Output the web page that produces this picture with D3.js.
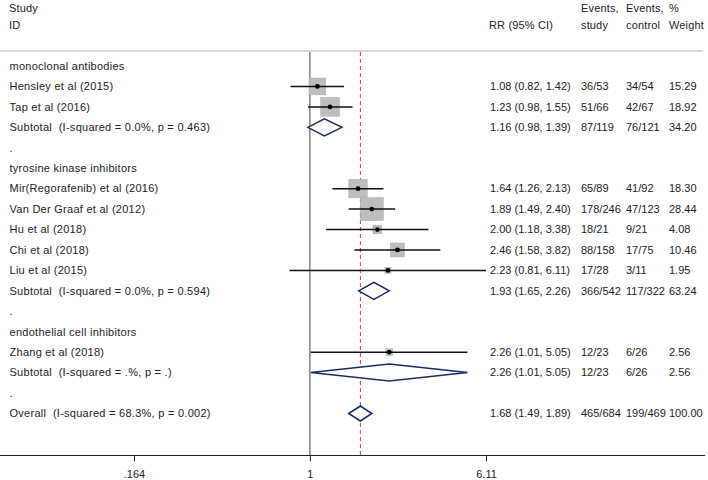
<!DOCTYPE html>
<html><head><meta charset="utf-8">
<script src="https://cdn.jsdelivr.net/npm/d3@7"></script>
<style>
html,body{margin:0;padding:0;background:#fff;}
text{font-family:Arial,"Liberation Sans",sans-serif;font-size:11px;fill:#222;white-space:pre;}
text.lab{letter-spacing:0.27px;}
</style></head><body>
<svg id="c" width="708" height="480"></svg>
<script>
const rowLabels = ["monoclonal antibodies","Hensley et al (2015)","Tap et al (2016)","Subtotal  (I-squared = 0.0%, p = 0.463)",".",
 "tyrosine kinase inhibitors","Mir(Regorafenib) et al (2016)","Van Der Graaf et al (2012)","Hu et al (2018)","Chi et al (2018)","Liu et al (2015)","Subtotal  (I-squared = 0.0%, p = 0.594)",".",
 "endothelial cell inhibitors","Zhang et al (2018)","Subtotal  (I-squared = .%, p = .)",".",
 "Overall  (I-squared = 68.3%, p = 0.002)"];
const rowTypes = ["head","study","study","sub","gap","head","study","study","study","study","study","sub","gap","head","study","sub","gap","sub"];
const rr  = [null,1.08,1.23,1.16,null,null,1.64,1.89,2.00,2.46,2.23,1.93,null,null,2.26,2.26,null,1.68];
const lo  = [null,0.82,0.98,0.98,null,null,1.26,1.49,1.18,1.58,0.81,1.65,null,null,1.01,1.01,null,1.49];
const hi  = [null,1.42,1.55,1.39,null,null,2.13,2.40,3.38,3.82,6.11,2.26,null,null,5.05,5.05,null,1.89];
const evStudy   = ["","36/53","51/66","87/119","","","65/89","178/246","18/21","88/158","17/28","366/542","","","12/23","12/23","","465/684"];
const evControl = ["","34/54","42/67","76/121","","","41/92","47/123","9/21","17/75","3/11","117/322","","","6/26","6/26","","199/469"];
const weights   = [null,15.29,18.92,34.20,null,null,18.30,28.44,4.08,10.46,1.95,63.24,null,null,2.56,2.56,null,100.00];
const tickVals = [0.164, 1, 6.11];
const tickLabels = [".164", "1", "6.11"];
const overallRR = 1.68;

const svg = d3.select("#c");
const x = d3.scaleLog().domain([0.164, 6.11]).range([134, 486]);
const y = d3.scaleLinear().domain([0, 17]).range([66, 413.5]);
const side = d3.scaleSqrt().domain([0, 100]).range([0, 43]);
const fmt = d3.format(".2f");

// header
const hdr = [["Study",9,8],["ID",9,25],["RR (95% CI)",489,25],["Events,",581,8],["study",581,25],["Events,",626,8],["control",626,25],["%",669,8],["Weight",669,25]];
svg.selectAll("text.h").data(hdr).join("text").attr("class","h")
  .attr("x",d=>d[1]).attr("y",d=>d[2]).attr("dy","0.35em").style("letter-spacing","0.15px").text(d=>d[0]);
svg.append("line").attr("x1",0).attr("x2",703).attr("y1",51).attr("y2",51).attr("stroke","#c8c8c8").attr("stroke-width",1.5);

// reference lines
svg.append("line").attr("x1",x(1)).attr("x2",x(1)).attr("y1",52).attr("y2",455).attr("stroke","#444").attr("stroke-width",1);
svg.append("line").attr("x1",x(overallRR)).attr("x2",x(overallRR)).attr("y1",52).attr("y2",455)
  .attr("stroke","#b0404a").attr("stroke-width",1).attr("stroke-dasharray","4,3");

const rows = rowLabels.map((l,i)=>({i,l,t:rowTypes[i],rr:rr[i],lo:lo[i],hi:hi[i],es:evStudy[i],ec:evControl[i],w:weights[i]}));

// labels
svg.selectAll("text.lab").data(rows).join("text").attr("class","lab")
  .attr("x",9.5).attr("y",d=>y(d.i)).attr("dy","0.35em").text(d=>d.l);

const vals = rows.filter(d=>d.rr!=null);
svg.selectAll("text.rr").data(vals).join("text").attr("class","rr")
  .attr("x",490).attr("y",d=>y(d.i)).attr("dy","0.35em")
  .text(d=>`${fmt(d.rr)} (${fmt(d.lo)}, ${fmt(d.hi)})`);
svg.selectAll("text.es").data(vals).join("text").attr("class","es")
  .attr("x",581).attr("y",d=>y(d.i)).attr("dy","0.35em").text(d=>d.es);
svg.selectAll("text.ec").data(vals).join("text").attr("class","ec")
  .attr("x",626).attr("y",d=>y(d.i)).attr("dy","0.35em").text(d=>d.ec);
svg.selectAll("text.w").data(vals).join("text").attr("class","w")
  .attr("x",669).attr("y",d=>y(d.i)).attr("dy","0.35em").text(d=>fmt(d.w));

// studies
const st = rows.filter(d=>d.t==="study");
svg.selectAll("rect.sq").data(st).join("rect").attr("class","sq")
  .attr("x",d=>x(d.rr)-side(d.w)/2).attr("y",d=>y(d.i)-side(d.w)/2)
  .attr("width",d=>side(d.w)).attr("height",d=>side(d.w))
  .attr("fill","#bdbdbd").attr("stroke","#aaa").attr("stroke-width",0.5);
svg.selectAll("line.ci").data(st).join("line").attr("class","ci")
  .attr("x1",d=>x(d.lo)).attr("x2",d=>x(d.hi)).attr("y1",d=>y(d.i)).attr("y2",d=>y(d.i))
  .attr("stroke","#111").attr("stroke-width",1.5);
svg.selectAll("circle.pt").data(st).join("circle").attr("class","pt")
  .attr("cx",d=>x(d.rr)).attr("cy",d=>y(d.i)).attr("r",2.4).attr("fill","#000");

// diamonds
const sb = rows.filter(d=>d.t==="sub");
svg.selectAll("path.dia").data(sb).join("path").attr("class","dia")
  .attr("d",d=>{const cy=y(d.i), h=d.i===17?7.5:8.5;
    return `M${x(d.lo)},${cy}L${x(d.rr)},${cy-h}L${x(d.hi)},${cy}L${x(d.rr)},${cy+h}Z`;})
  .attr("fill","#fff").attr("stroke","#1c2a63").attr("stroke-width",1.5);

// axis
svg.append("line").attr("x1",0).attr("x2",705).attr("y1",455.5).attr("y2",455.5).attr("stroke","#222").attr("stroke-width",1);
const ax = d3.axisBottom(x).tickValues(tickVals).tickFormat((d,i)=>tickLabels[i]).tickSize(6).tickPadding(9);
const g = svg.append("g").attr("transform","translate(0,455.5)").call(ax);
g.select(".domain").remove();
g.selectAll(".tick line").attr("stroke","#222");
g.selectAll(".tick text").style("font-family","Arial, 'Liberation Sans', sans-serif").style("font-size","11px").attr("fill","#222");
</script>
</body></html>
